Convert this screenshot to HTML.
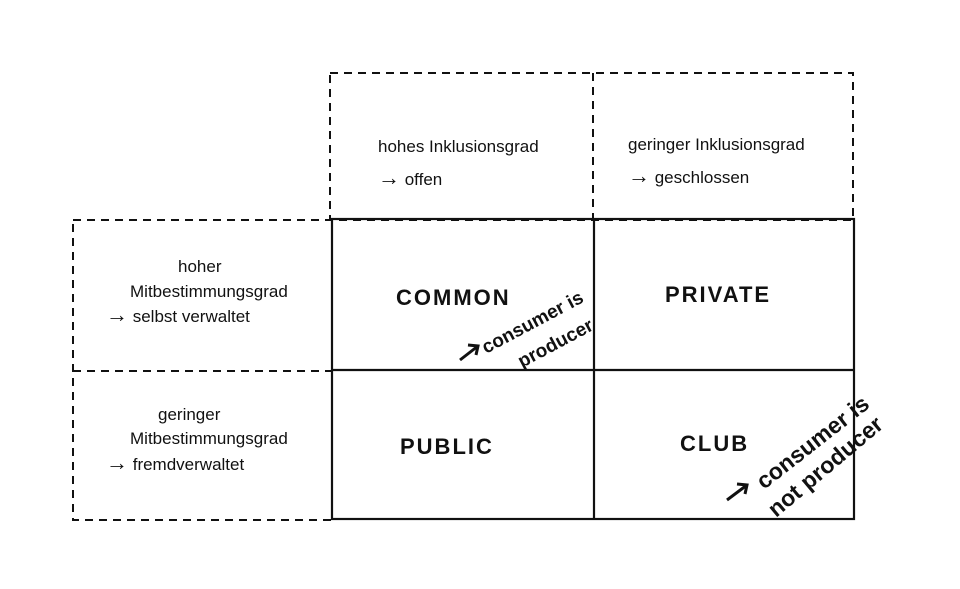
<!DOCTYPE html>
<html><head><meta charset="utf-8"><style>
html,body{margin:0;padding:0;background:#fff}
svg{display:block}
text{font-family:"Liberation Sans",sans-serif;fill:#111}
.h{font-size:17px}
.b{font-size:22px;font-weight:bold;letter-spacing:2px}
.c{font-size:19px;font-weight:bold}
.d{font-size:23px;font-weight:bold}
</style></head><body>
<svg width="960" height="589" viewBox="0 0 960 589" xmlns="http://www.w3.org/2000/svg">
<g fill="none" stroke="#111" stroke-width="2" stroke-dasharray="8,6">
<rect x="330" y="73" width="523" height="147"/>
<line x1="593" y1="73" x2="593" y2="220"/>
<rect x="73" y="220" width="259" height="300"/>
<line x1="73" y1="371" x2="332" y2="371"/>
</g>
<g fill="none" stroke="#111" stroke-width="2.2">
<rect x="332" y="219" width="522" height="300"/>
<line x1="594" y1="219" x2="594" y2="519"/>
<line x1="332" y1="370" x2="854" y2="370"/>
</g>
<text class="h" x="378" y="152">hohes Inklusionsgrad</text>
<text class="h" x="378" y="185"><tspan font-size="22">→</tspan> offen</text>
<text class="h" x="628" y="150">geringer Inklusionsgrad</text>
<text class="h" x="628" y="183"><tspan font-size="22">→</tspan> geschlossen</text>
<text class="h" x="178" y="272">hoher</text>
<text class="h" x="130" y="297">Mitbestimmungsgrad</text>
<text class="h" x="106" y="322"><tspan font-size="22">→</tspan> selbst verwaltet</text>
<text class="h" x="158" y="420">geringer</text>
<text class="h" x="130" y="444">Mitbestimmungsgrad</text>
<text class="h" x="106" y="470"><tspan font-size="22">→</tspan> fremdverwaltet</text>
<text class="b" x="396" y="305">COMMON</text>
<text class="b" x="665" y="302">PRIVATE</text>
<text class="b" x="400" y="454">PUBLIC</text>
<text class="b" x="680" y="451">CLUB</text>
<g stroke="#111" stroke-width="3" fill="none"><line x1="460" y1="360" x2="478" y2="346"/><polyline points="468,345 478,346 476,355"/></g>
<text class="c" transform="translate(486,354) rotate(-28)">consumer is</text>
<text class="c" transform="translate(522,368) rotate(-28)">producer</text>
<g stroke="#111" stroke-width="3" fill="none"><line x1="727" y1="500" x2="747" y2="485"/><polyline points="737,484 747,485 745,494"/></g>
<text class="d" transform="translate(764,490) rotate(-38)">consumer is</text>
<text class="d" transform="translate(776,518) rotate(-40)">not producer</text>
</svg>
</body></html>
